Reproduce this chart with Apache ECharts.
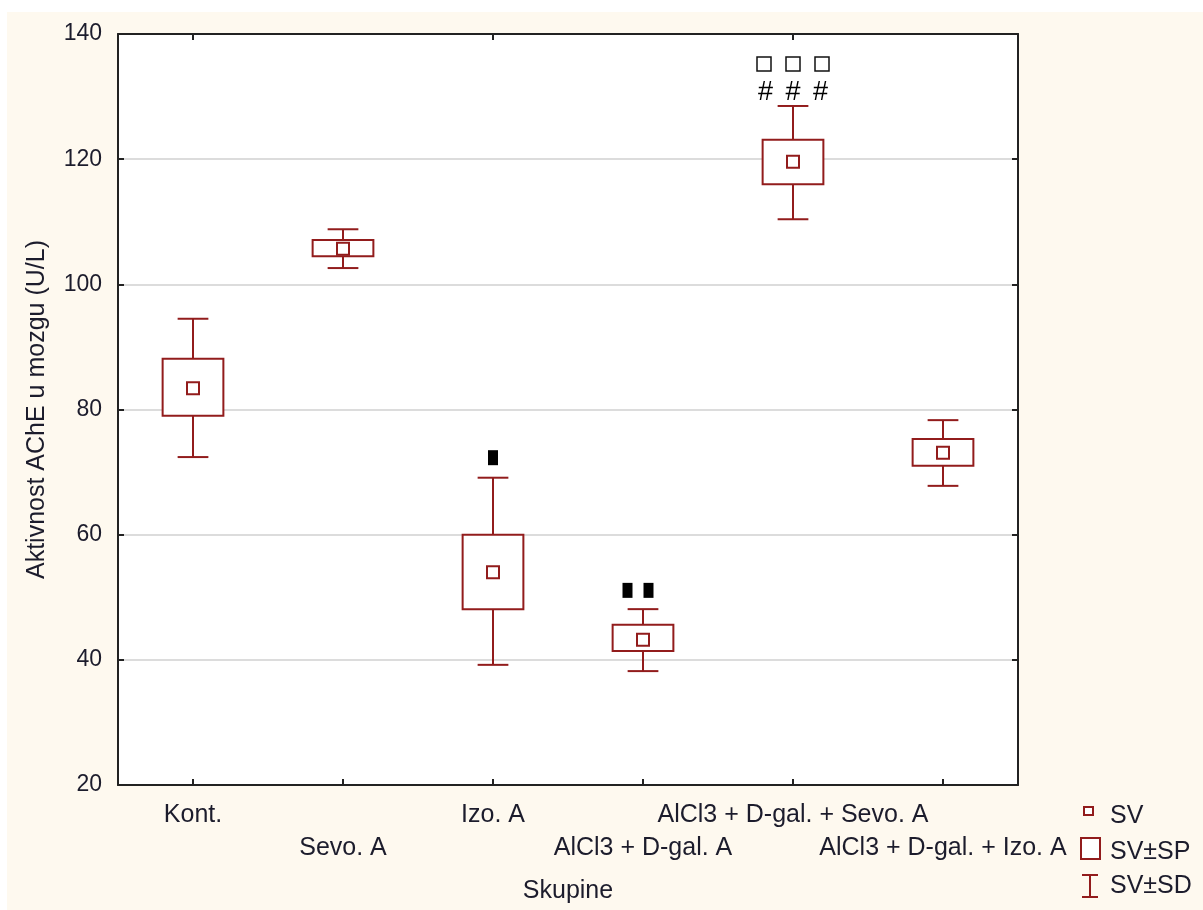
<!DOCTYPE html>
<html>
<head>
<meta charset="utf-8">
<script src="https://cdn.jsdelivr.net/npm/echarts@6/dist/echarts.min.js"></script>
<style>
html,body{margin:0;padding:0;background:#ffffff;}
#bg{position:absolute;left:7px;top:12px;width:1196px;height:898px;background:#fef9ef;}
#chart{position:absolute;left:0;top:0;width:1203px;height:910px;}
</style>
</head>
<body>
<div id="bg"></div>
<div id="chart"></div>
<script>
// ---- data ----
const categories = ['Kont.', 'Sevo. A', 'Izo. A', 'AlCl3 + D-gal. A', 'AlCl3 + D-gal. + Sevo. A', 'AlCl3 + D-gal. + Izo. A'];
const means  = [83.4, 105.7, 54.0, 43.2, 119.6, 73.1];
const seLow  = [79.0, 104.5, 48.1, 41.4, 116.0, 71.0];
const seHigh = [88.1, 107.1, 60.0, 45.6, 123.1, 75.3];
const sdLow  = [72.4, 102.6, 39.2, 38.2, 110.4, 67.8];
const sdHigh = [94.5, 108.8, 69.1, 48.1, 128.5, 78.3];
const yTicks = [20, 40, 60, 80, 100, 120, 140];
// significance marks
const annCategory = [2, 3, 4, 4];
const annValue    = [72.3, 51.1, 135.2, 130.7];
const annMarks    = ['■', '■ ■', '□ □ □', '# # #'];

const RED = '#921c1c';
const TXT = '#1c1c2c';
const FONT = 'Liberation Sans, Arial, sans-serif';
const FS = 25;

const boxData = categories.map((c, i) => [i, means[i], seLow[i], seHigh[i], sdLow[i], sdHigh[i]]);
const annData = annCategory.map((c, i) => [c, annValue[i], annMarks[i]]);

function renderBox(params, api) {
  const x = api.value(0);
  const band = api.size([1, 0])[0];
  const bw = band * 0.405, cw = band * 0.205, ms = 12;
  const m = api.coord([x, api.value(1)]);
  const sl = api.coord([x, api.value(2)]);
  const sh = api.coord([x, api.value(3)]);
  const dl = api.coord([x, api.value(4)]);
  const dh = api.coord([x, api.value(5)]);
  const cx = m[0];
  const st = {stroke: RED, lineWidth: 2, fill: null};
  return {
    type: 'group',
    children: [
      {type: 'line', shape: {x1: cx, y1: dh[1], x2: cx, y2: sh[1]}, style: st},
      {type: 'line', shape: {x1: cx, y1: sl[1], x2: cx, y2: dl[1]}, style: st},
      {type: 'line', shape: {x1: cx - cw / 2, y1: dh[1], x2: cx + cw / 2, y2: dh[1]}, style: st},
      {type: 'line', shape: {x1: cx - cw / 2, y1: dl[1], x2: cx + cw / 2, y2: dl[1]}, style: st},
      {type: 'rect', shape: {x: cx - bw / 2, y: sh[1], width: bw, height: sl[1] - sh[1]}, style: {stroke: RED, lineWidth: 2, fill: '#fff'}},
      {type: 'rect', shape: {x: cx - ms / 2, y: m[1] - ms / 2, width: ms, height: ms}, style: {stroke: RED, lineWidth: 2, fill: '#fff'}}
    ]
  };
}

function renderAnn(params, api) {
  const x = api.value(0);
  const p = api.coord([x, api.value(1)]);
  const marks = String(annData[params.dataIndex][2]).split(' ');
  const kind = marks[0];
  const spacing = kind === '■' ? 21 : (kind === '□' ? 29 : 27.5);
  const n = marks.length;
  const children = [];
  for (let k = 0; k < n; k++) {
    const cx = p[0] + (k - (n - 1) / 2) * spacing + (kind === '■' && n > 1 ? -5 : 0);
    if (kind === '■') {
      children.push({type: 'rect', shape: {x: cx - 5, y: p[1] - 7.5, width: 10, height: 15}, style: {fill: '#000'}});
    } else if (kind === '□') {
      children.push({type: 'rect', shape: {x: cx - 7, y: p[1] - 7, width: 14, height: 14}, style: {stroke: '#111', lineWidth: 1.5, fill: '#fff'}});
    } else {
      children.push({type: 'text', x: cx, y: p[1], style: {text: kind, fill: '#000', font: '27px ' + FONT, align: 'center', verticalAlign: 'middle'}});
    }
  }
  return {type: 'group', children: children};
}

const chart = echarts.init(document.getElementById('chart'), null, {renderer: 'canvas'});
const axisLine = {show: true, lineStyle: {color: '#222', width: 2}};
const option = {
  backgroundColor: 'transparent',
  animation: false,
  textStyle: {fontFamily: FONT},
  grid: {left: 118, top: 34, right: 185, bottom: 125, show: true, backgroundColor: '#ffffff', borderWidth: 0},
  xAxis: [
    {
      type: 'category', data: categories, position: 'bottom', boundaryGap: true,
      axisLine: axisLine,
      axisTick: {show: true, inside: true, length: 6, alignWithLabel: true, lineStyle: {color: '#222', width: 2}},
      axisLabel: {
        interval: 0, color: TXT, fontSize: FS, fontFamily: FONT, margin: 14, lineHeight: 33,
        formatter: function (v, i) { return i % 2 ? '\n' + v : v; }
      },
      name: 'Skupine', nameLocation: 'middle', nameGap: 94,
      nameTextStyle: {color: TXT, fontSize: FS, fontFamily: FONT}
    },
    {
      type: 'category', data: categories, position: 'top', boundaryGap: true,
      axisLine: axisLine,
      axisTick: {show: true, inside: true, length: 6, alignWithLabel: true, lineStyle: {color: '#222', width: 2}},
      axisLabel: {show: false}
    }
  ],
  yAxis: [
    {
      type: 'value', min: 20, max: 140, interval: 20, position: 'left',
      axisLine: axisLine,
      axisTick: {show: true, inside: true, length: 6, lineStyle: {color: '#222', width: 2}},
      axisLabel: {color: TXT, fontSize: 23, fontFamily: FONT, margin: 16,
        formatter: function (v) { return yTicks.indexOf(v) >= 0 ? String(v) : ''; }},
      splitLine: {show: true, lineStyle: {color: '#dcdcdc', width: 2}},
      name: 'Aktivnost AChE u mozgu (U/L)', nameLocation: 'middle', nameGap: 68,
      nameTextStyle: {color: TXT, fontSize: FS, fontFamily: FONT}
    },
    {
      type: 'value', min: 20, max: 140, interval: 20, position: 'right',
      axisLine: axisLine,
      axisTick: {show: true, inside: true, length: 6, lineStyle: {color: '#222', width: 2}},
      axisLabel: {show: false},
      splitLine: {show: false}
    }
  ],
  series: [
    {type: 'custom', name: 'box', renderItem: renderBox, data: boxData, encode: {x: 0, y: [1, 2, 3, 4, 5]}, z: 5, clip: false},
    {type: 'custom', name: 'ann', renderItem: renderAnn, data: annData, encode: {x: 0, y: 1}, z: 6, clip: false}
  ],
  graphic: [
    {type: 'rect', shape: {x: 1084, y: 807, width: 9, height: 8}, style: {stroke: RED, lineWidth: 2, fill: '#fff'}},
    {type: 'text', x: 1110, y: 816, style: {text: 'SV', fill: TXT, font: FS + 'px ' + FONT, verticalAlign: 'middle'}},
    {type: 'rect', shape: {x: 1081, y: 838, width: 19, height: 21}, style: {stroke: RED, lineWidth: 2, fill: '#fff'}},
    {type: 'text', x: 1110, y: 852, style: {text: 'SV±SP', fill: TXT, font: FS + 'px ' + FONT, verticalAlign: 'middle'}},
    {type: 'line', shape: {x1: 1090, y1: 875, x2: 1090, y2: 897}, style: {stroke: RED, lineWidth: 2}},
    {type: 'line', shape: {x1: 1082, y1: 875, x2: 1098, y2: 875}, style: {stroke: RED, lineWidth: 2}},
    {type: 'line', shape: {x1: 1082, y1: 897, x2: 1098, y2: 897}, style: {stroke: RED, lineWidth: 2}},
    {type: 'text', x: 1110, y: 886, style: {text: 'SV±SD', fill: TXT, font: FS + 'px ' + FONT, verticalAlign: 'middle'}}
  ]
};
chart.setOption(option);
</script>
</body>
</html>
